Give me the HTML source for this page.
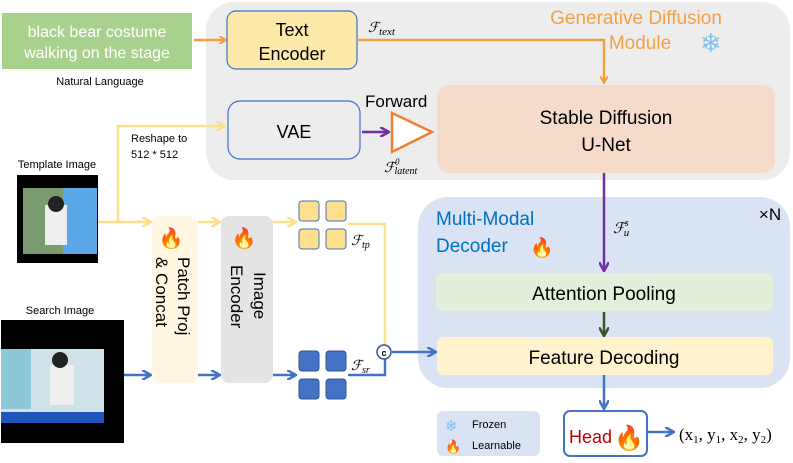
<!DOCTYPE html>
<html><head><meta charset="utf-8"><style>
html,body{margin:0;padding:0;background:#fff;}
svg{display:block;font-family:"Liberation Sans","DejaVu Sans",sans-serif;}
.m{font-family:"Liberation Serif",serif;font-style:italic;}
</style></head><body>
<svg width="793" height="463" viewBox="0 0 793 463" xmlns="http://www.w3.org/2000/svg">
<defs>
<marker id="ao" markerWidth="8" markerHeight="8" refX="6" refY="4" orient="auto" markerUnits="userSpaceOnUse"><path d="M0,0 L7,4 L0,8" fill="none" stroke="#f0a040" stroke-width="2"/></marker>
<marker id="ay" markerWidth="10" markerHeight="10" refX="8" refY="5" orient="auto" markerUnits="userSpaceOnUse"><path d="M0,0 L9,5 L0,10" fill="none" stroke="#fde08c" stroke-width="2.5"/></marker>
<marker id="ab" markerWidth="10" markerHeight="10" refX="8" refY="5" orient="auto" markerUnits="userSpaceOnUse"><path d="M0,0 L9,5 L0,10" fill="none" stroke="#4472c4" stroke-width="2.5"/></marker>
<marker id="ap" markerWidth="10" markerHeight="10" refX="8" refY="5" orient="auto" markerUnits="userSpaceOnUse"><path d="M0,0 L9,5 L0,10" fill="none" stroke="#7030a0" stroke-width="2.5"/></marker>
<marker id="ag" markerWidth="10" markerHeight="10" refX="8" refY="5" orient="auto" markerUnits="userSpaceOnUse"><path d="M0,0 L9,5 L0,10" fill="none" stroke="#375623" stroke-width="2.5"/></marker>
</defs>
<rect x="206" y="2" width="584" height="178" rx="28" fill="#ededed"/>
<text x="636" y="24" fill="#f4a048" font-size="19" text-anchor="middle">Generative Diffusion</text>
<text x="640" y="49" fill="#f4a048" font-size="19" text-anchor="middle">Module</text>
<text x="700" y="52" font-size="26" fill="#7fc4ec">❄</text>
<rect x="2" y="13" width="190" height="56" fill="#a9d18e"/>
<text x="97" y="37" fill="#fff" font-size="16" text-anchor="middle">black bear costume</text>
<text x="97" y="58" fill="#fff" font-size="16" text-anchor="middle">walking on the stage</text>
<text x="100" y="85" font-size="11" text-anchor="middle">Natural Language</text>
<line x1="194" y1="40" x2="225" y2="40" stroke="#f0a040" stroke-width="2.5" marker-end="url(#ao)"/>
<rect x="227" y="11" width="130" height="58" rx="9" fill="#fde9a9" stroke="#4472c4" stroke-width="1.2"/>
<text x="292" y="36" font-size="18" text-anchor="middle">Text</text>
<text x="292" y="60" font-size="18" text-anchor="middle">Encoder</text>
<text x="368" y="32" class="m" font-size="14">ℱ<tspan font-size="11" dy="3">text</tspan></text>
<polyline points="357,40 604,40 604,82" fill="none" stroke="#f0a040" stroke-width="2.5" marker-end="url(#ao)"/>
<rect x="228" y="101" width="132" height="58" rx="12" fill="#ededed" stroke="#4472c4" stroke-width="1.2"/>
<text x="294" y="138" font-size="18" text-anchor="middle">VAE</text>
<line x1="362" y1="132" x2="388" y2="132" stroke="#7030a0" stroke-width="2.5" marker-end="url(#ap)"/>
<polygon points="392,113 432,132 392,152" fill="#fff" stroke="#f08030" stroke-width="2.5"/>
<rect x="437" y="85" width="338" height="88" rx="12" fill="#f5dcca"/>
<text x="365" y="107" font-size="17">Forward</text>
<text x="384" y="172" class="m" font-size="14">ℱ<tspan font-size="9" dy="-7">0</tspan><tspan font-size="10" dy="9" dx="-5">latent</tspan></text>
<text x="606" y="124" font-size="19" text-anchor="middle">Stable Diffusion</text>
<text x="606" y="151" font-size="19" text-anchor="middle">U-Net</text>
<text x="57" y="168" font-size="11" text-anchor="middle">Template Image</text>
<rect x="17" y="175" width="81" height="88" fill="#000"/>
<rect x="23" y="188" width="74" height="66" fill="#8ab8c8"/>
<rect x="23" y="188" width="40" height="66" fill="#7a9a70"/>
<rect x="63" y="188" width="34" height="66" fill="#5aa8e8"/>
<rect x="45" y="205" width="22" height="40" fill="#eee"/><circle cx="56" cy="204" r="8" fill="#222"/>
<text x="60" y="314" font-size="11" text-anchor="middle">Search Image</text>
<rect x="1" y="320" width="123" height="123" fill="#000"/>
<rect x="1" y="349" width="103" height="74" fill="#cfe2ea"/>
<rect x="1" y="349" width="30" height="60" fill="#8cc8d8"/>
<rect x="1" y="412" width="103" height="11" fill="#2255bb"/>
<rect x="50" y="365" width="24" height="40" fill="#eee"/><circle cx="60" cy="360" r="8" fill="#222"/>
<polyline points="98,222 118,222 118,126 224,126" fill="none" stroke="#fde08c" stroke-width="2.5" marker-end="url(#ay)"/>
<line x1="118" y1="222" x2="150" y2="222" stroke="#fde08c" stroke-width="2.5" marker-end="url(#ay)"/>
<text x="131" y="142" font-size="11">Reshape to</text>
<text x="131" y="158" font-size="11">512 * 512</text>
<rect x="152" y="216" width="46" height="167" rx="8" fill="#fff7e1"/>
<rect x="221" y="216" width="52" height="167" rx="8" fill="#e4e4e4"/>
<text x="171" y="245" font-size="20" text-anchor="middle">🔥</text>
<text x="244" y="245" font-size="20" text-anchor="middle">🔥</text>
<text transform="translate(178,257) rotate(90)" font-size="17">Patch Proj</text>
<text transform="translate(156,257) rotate(90)" font-size="17">&amp; Concat</text>
<text transform="translate(254,272) rotate(90)" font-size="17">Image</text>
<text transform="translate(231,265) rotate(90)" font-size="17">Encoder</text>
<line x1="198" y1="222" x2="219" y2="222" stroke="#fde08c" stroke-width="2.5" marker-end="url(#ay)"/>
<line x1="273" y1="222" x2="295" y2="222" stroke="#fde08c" stroke-width="2.5" marker-end="url(#ay)"/>
<line x1="124" y1="375" x2="150" y2="375" stroke="#4472c4" stroke-width="2.5" marker-end="url(#ab)"/>
<line x1="198" y1="375" x2="219" y2="375" stroke="#4472c4" stroke-width="2.5" marker-end="url(#ab)"/>
<line x1="273" y1="375" x2="295" y2="375" stroke="#4472c4" stroke-width="2.5" marker-end="url(#ab)"/>
<g fill="#fde08c" stroke="#4472c4" stroke-width="1">
<rect x="299" y="201" width="20" height="20" rx="3"/><rect x="326" y="201" width="20" height="20" rx="3"/>
<rect x="299" y="229" width="20" height="20" rx="3"/><rect x="326" y="229" width="20" height="20" rx="3"/>
</g>
<g fill="#4472c4" stroke="#2f5597" stroke-width="1">
<rect x="299" y="351" width="20" height="20" rx="3"/><rect x="326" y="351" width="20" height="20" rx="3"/>
<rect x="299" y="379" width="20" height="20" rx="3"/><rect x="326" y="379" width="20" height="20" rx="3"/>
</g>
<text x="351" y="245" class="m" font-size="14">ℱ<tspan font-size="10" dy="3">tp</tspan></text>
<text x="351" y="370" class="m" font-size="14">ℱ<tspan font-size="10" dy="3">sr</tspan></text>
<polyline points="348,224 385,224 385,345" fill="none" stroke="#fde08c" stroke-width="2.5"/>
<polyline points="348,375 385,375 385,359" fill="none" stroke="#4472c4" stroke-width="2.5"/>
<rect x="418" y="197" width="372" height="191" rx="30" fill="#dae3f3"/>
<line x1="392" y1="352" x2="435" y2="352" stroke="#4472c4" stroke-width="2.5" marker-end="url(#ab)"/>
<circle cx="384" cy="352" r="7" fill="#fff" stroke="#2f5597" stroke-width="1.5"/>
<text x="384" y="356" font-size="9" font-weight="bold" text-anchor="middle">c</text>
<text x="436" y="225" fill="#0070c0" font-size="19">Multi-Modal</text>
<text x="436" y="252" fill="#0070c0" font-size="19">Decoder</text>
<text x="530" y="254" font-size="19">🔥</text>
<text x="770" y="220" font-size="17" text-anchor="middle">×N</text>
<line x1="604" y1="173" x2="604" y2="270" stroke="#7030a0" stroke-width="2.5" marker-end="url(#ap)"/>
<text x="613" y="233" class="m" font-size="15">ℱ<tspan font-size="10" dy="-7">s</tspan><tspan font-size="11" dy="10" dx="-5">u</tspan></text>
<rect x="436" y="273" width="337" height="38" rx="6" fill="#e2efda"/>
<text x="604" y="300" font-size="19" text-anchor="middle">Attention Pooling</text>
<line x1="604" y1="312" x2="604" y2="335" stroke="#375623" stroke-width="2.5" marker-end="url(#ag)"/>
<rect x="437" y="337" width="336" height="38" rx="6" fill="#fff2cc"/>
<text x="604" y="364" font-size="19" text-anchor="middle">Feature Decoding</text>
<line x1="604" y1="375" x2="604" y2="408" stroke="#4472c4" stroke-width="2.5" marker-end="url(#ab)"/>
<rect x="437" y="411" width="103" height="45" rx="6" fill="#dae3f3"/>
<text x="445" y="431" font-size="15" fill="#7fc4ec">❄</text>
<text x="472" y="428" font-size="11">Frozen</text>
<text x="445" y="451" font-size="13">🔥</text>
<text x="472" y="449" font-size="11">Learnable</text>
<rect x="564" y="411" width="83" height="45" rx="6" fill="#fff" stroke="#4472c4" stroke-width="2"/>
<text x="569" y="443" fill="#c00000" font-size="18">Head</text>
<text x="614" y="446" font-size="24">🔥</text>
<line x1="648" y1="432" x2="673" y2="432" stroke="#4472c4" stroke-width="2.5" marker-end="url(#ab)"/>
<text x="679" y="440" font-family="Liberation Serif,serif" font-size="17">(x<tspan font-size="11" dy="3">1</tspan><tspan dy="-3">, y</tspan><tspan font-size="11" dy="3">1</tspan><tspan dy="-3">, x</tspan><tspan font-size="11" dy="3">2</tspan><tspan dy="-3">, y</tspan><tspan font-size="11" dy="3">2</tspan><tspan dy="-3">)</tspan></text>
</svg>
</body></html>
